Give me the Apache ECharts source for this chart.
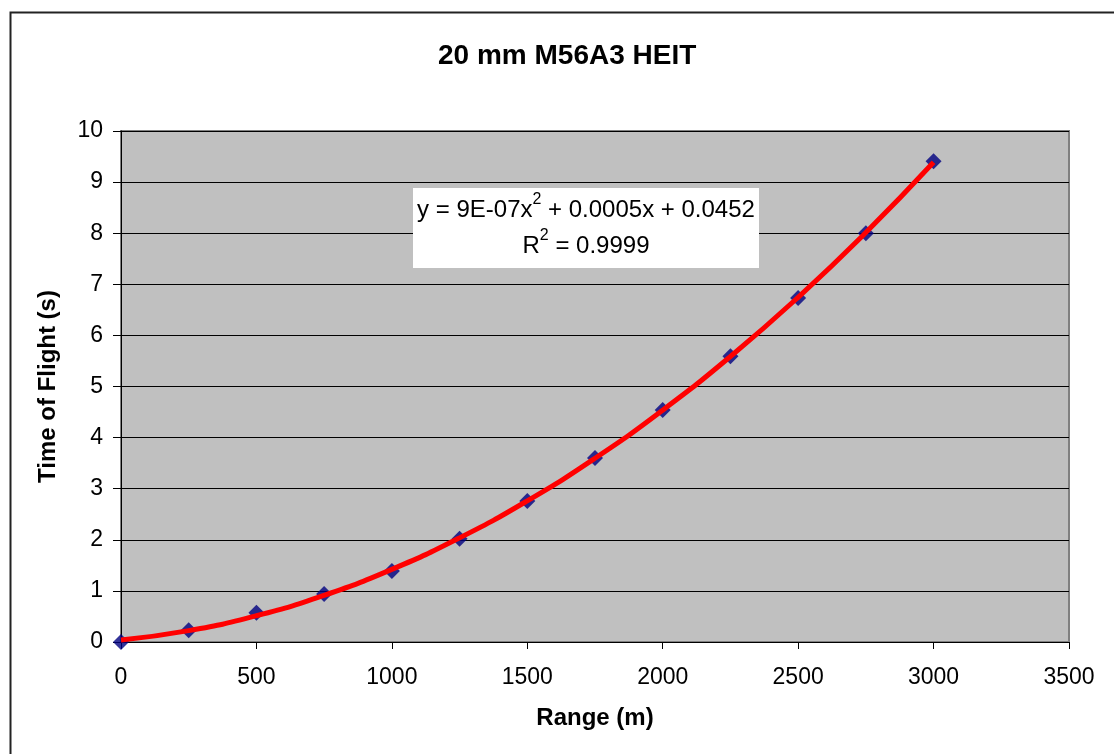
<!DOCTYPE html>
<html>
<head>
<meta charset="utf-8">
<script src="https://cdn.jsdelivr.net/npm/echarts@6/dist/echarts.min.js"></script>
<style>
  html, body { margin: 0; padding: 0; background: #fff; }
  #chart { width: 1114px; height: 754px; }
</style>
</head>
<body>
<div id="chart"></div>
<script>
// measured time of flight per range
const rangeM = [0, 250, 500, 750, 1000, 1250, 1500, 1750, 2000, 2250, 2500, 2750, 3000];
const flightS = [0.0, 0.23, 0.57, 0.94, 1.39, 2.02, 2.76, 3.60, 4.54, 5.59, 6.73, 8.00, 9.41];
const xTicks = [0, 500, 1000, 1500, 2000, 2500, 3000, 3500];
const yTicks = [0, 1, 2, 3, 4, 5, 6, 7, 8, 9, 10];

// least squares 2nd order fit, same as the excel trendline
function polyFit2(xs, ys) {
  let s = [0, 0, 0, 0, 0], t = [0, 0, 0];
  xs.forEach((x, i) => {
    let p = 1;
    for (let k = 0; k < 5; k++) { s[k] += p; if (k < 3) t[k] += p * ys[i]; p *= x; }
  });
  const m = [[s[0], s[1], s[2], t[0]], [s[1], s[2], s[3], t[1]], [s[2], s[3], s[4], t[2]]];
  for (let c = 0; c < 3; c++) {
    for (let r = c + 1; r < 3; r++) {
      const f = m[r][c] / m[c][c];
      for (let k = c; k < 4; k++) m[r][k] -= f * m[c][k];
    }
  }
  const a = [0, 0, 0];
  for (let r = 2; r >= 0; r--) {
    let v = m[r][3];
    for (let k = r + 1; k < 3; k++) v -= m[r][k] * a[k];
    a[r] = v / m[r][r];
  }
  return a;
}
const coef = polyFit2(rangeM, flightS);
const trend = rangeM.map(x => [x, coef[0] + coef[1] * x + coef[2] * x * x]);

const font = "'Liberation Sans', Arial, sans-serif";
const chart = echarts.init(document.getElementById('chart'));
chart.setOption({
  animation: false,
  textStyle: { fontFamily: font },
  title: {
    text: '20 mm M56A3 HEIT',
    left: 433,
    top: 37,
    textStyle: { fontSize: 28, fontWeight: 'bold', color: '#000', fontFamily: font }
  },
  grid: { left: 121, top: 131, right: 45, bottom: 112, show: true, backgroundColor: '#c0c0c0', borderColor: '#808080', borderWidth: 2 },
  xAxis: {
    type: 'value', min: 0, max: 3500, interval: 500,
    name: 'Range (m)', nameLocation: 'middle', nameGap: 64,
    nameTextStyle: { fontSize: 24, fontWeight: 'bold', color: '#000', fontFamily: font },
    axisLine: { lineStyle: { color: '#000', width: 1 } },
    axisTick: { show: true, length: 7, lineStyle: { color: '#000' } },
    axisLabel: { fontSize: 23, color: '#000', margin: 24, fontFamily: font, formatter: v => String(v) },
    splitLine: { show: false }
  },
  yAxis: {
    type: 'value', min: 0, max: 10, interval: 1,
    name: 'Time of Flight (s)', nameLocation: 'middle', nameGap: 61, nameRotate: 90,
    nameTextStyle: { fontSize: 24, fontWeight: 'bold', color: '#000', fontFamily: font },
    axisLine: { show: true, lineStyle: { color: '#000', width: 1 } },
    axisTick: { show: true, length: 8, lineStyle: { color: '#000' } },
    axisLabel: { fontSize: 23, color: '#000', margin: 18, fontFamily: font, formatter: v => String(v) },
    splitLine: { show: true, lineStyle: { color: '#000', width: 1 } }
  },
  series: [
    {
      type: 'scatter',
      data: rangeM.map((x, i) => [x, flightS[i]]),
      symbol: 'diamond',
      symbolSize: 16,
      itemStyle: { color: '#000080' },
      z: 2
    },
    {
      type: 'line',
      data: trend,
      smooth: true,
      showSymbol: false,
      lineStyle: { color: '#ff0000', width: 5 },
      z: 3
    }
  ],
  graphic: [
    {
      type: 'rect', left: 8, top: 10, z: -10, silent: true,
      shape: { width: 1200, height: 800 },
      style: { fill: 'none', stroke: '#222', lineWidth: 2 }
    },
    {
      type: 'rect', left: 413, top: 188, z: 10,
      shape: { width: 346, height: 80 },
      style: { fill: '#fff' }
    },
    {
      type: 'text', x: 586, y: 192, z: 11,
      style: {
        text: 'y = 9E-07x{sup|2} + 0.0005x + 0.0452\nR{sup|2} = 0.9999',
        font: '24px ' + font,
        fill: '#000',
        align: 'center',
        verticalAlign: 'top',
        lineHeight: 36,
        rich: {
          sup: { fontSize: 16, verticalAlign: 'top', lineHeight: 36, padding: [0, 0, 8, 0], fontFamily: font }
        }
      }
    }
  ]
});
</script>
</body>
</html>
